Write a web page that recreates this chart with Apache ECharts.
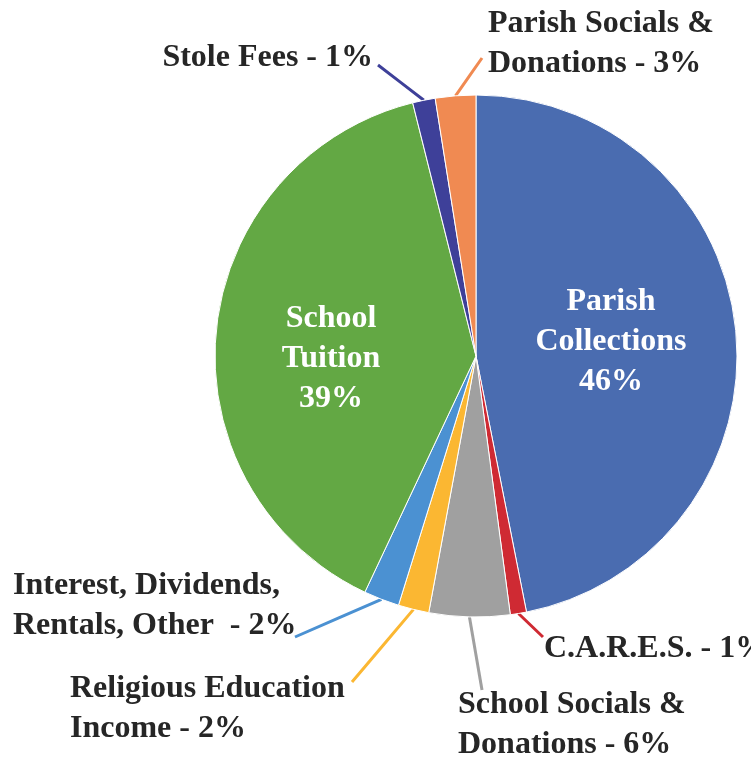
<!DOCTYPE html>
<html><head><meta charset="utf-8">
<script src="https://cdn.jsdelivr.net/npm/echarts@6/dist/echarts.min.js"></script>
<style>html,body{margin:0;padding:0;background:#fff}#c{width:751px;height:758px}</style>
</head><body><div id="c"></div>
<script>
const categories = ['Parish Collections', 'C.A.R.E.S.', 'School Socials & Donations', 'Religious Education Income', 'Interest, Dividends, Rentals, Other', 'School Tuition', 'Stole Fees', 'Parish Socials & Donations'];
const values = [46.9, 1.0, 5.0, 1.9, 2.2, 39.1, 1.4, 2.5];
const labelTexts = ['Parish\nCollections\n46%', 'C.A.R.E.S. - 1%', 'School Socials &\nDonations - 6%', 'Religious Education\nIncome - 2%', 'Interest, Dividends,\nRentals, Other  - 2%', 'School\nTuition\n39%', 'Stole Fees - 1%', 'Parish Socials &\nDonations - 3%'];
const insideFlags = [true, false, false, false, false, true, false, false];

const colors = ['#4a6cb0', '#cf2a33', '#a0a0a0', '#fbb732', '#4b91d2', '#63a844', '#3e4099', '#f08a52'];
// label placement (layout styling)
const labelPos = [
  {x: 611, y: 342, align: 'center'},
  {x: 544, y: 649, align: 'left', end: [543, 637]},
  {x: 458, y: 725, align: 'left', end: [482, 690]},
  {x: 70, y: 709, align: 'left', end: [352, 682]},
  {x: 13, y: 606, align: 'left', end: [295, 637]},
  {x: 331, y: 359, align: 'center'},
  {x: 373, y: 58, align: 'right', end: [378, 65]},
  {x: 488, y: 44, align: 'left', end: [482, 58]}
];

const chart = echarts.init(document.getElementById('c'));
const data = categories.map((name, i) => ({
  name: name,
  value: values[i],
  itemStyle: {color: colors[i]},
  label: insideFlags[i]
    ? {position: 'inside', color: '#ffffff', formatter: labelTexts[i]}
    : {position: 'outside', color: '#262626', formatter: labelTexts[i]},
  labelLine: {show: !insideFlags[i]}
}));

chart.setOption({
  animation: false,
  series: [{
    type: 'pie',
    center: [476, 356],
    radius: 261,
    startAngle: 90,
    clockwise: true,
    avoidLabelOverlap: false,
    minShowLabelAngle: 0,
    emphasis: {disabled: true},
    itemStyle: {borderColor: '#ffffff', borderWidth: 1},
    label: {
      fontFamily: 'Liberation Serif',
      fontWeight: 'bold',
      fontSize: 32,
      lineHeight: 40,
      textBorderWidth: 0
    },
    labelLine: {lineStyle: {width: 3}, length: 20, length2: 10},
    labelLayout: function (p) {
      const L = labelPos[p.dataIndex];
      const out = {x: L.x, y: L.y, align: L.align, verticalAlign: 'middle'};
      if (L.end && p.labelLinePoints && p.labelLinePoints.length) {
        const s = p.labelLinePoints[0];
        out.labelLinePoints = [s, [(s[0] + L.end[0]) / 2, (s[1] + L.end[1]) / 2], L.end];
      }
      return out;
    },
    data: data
  }]
});
</script></body></html>
